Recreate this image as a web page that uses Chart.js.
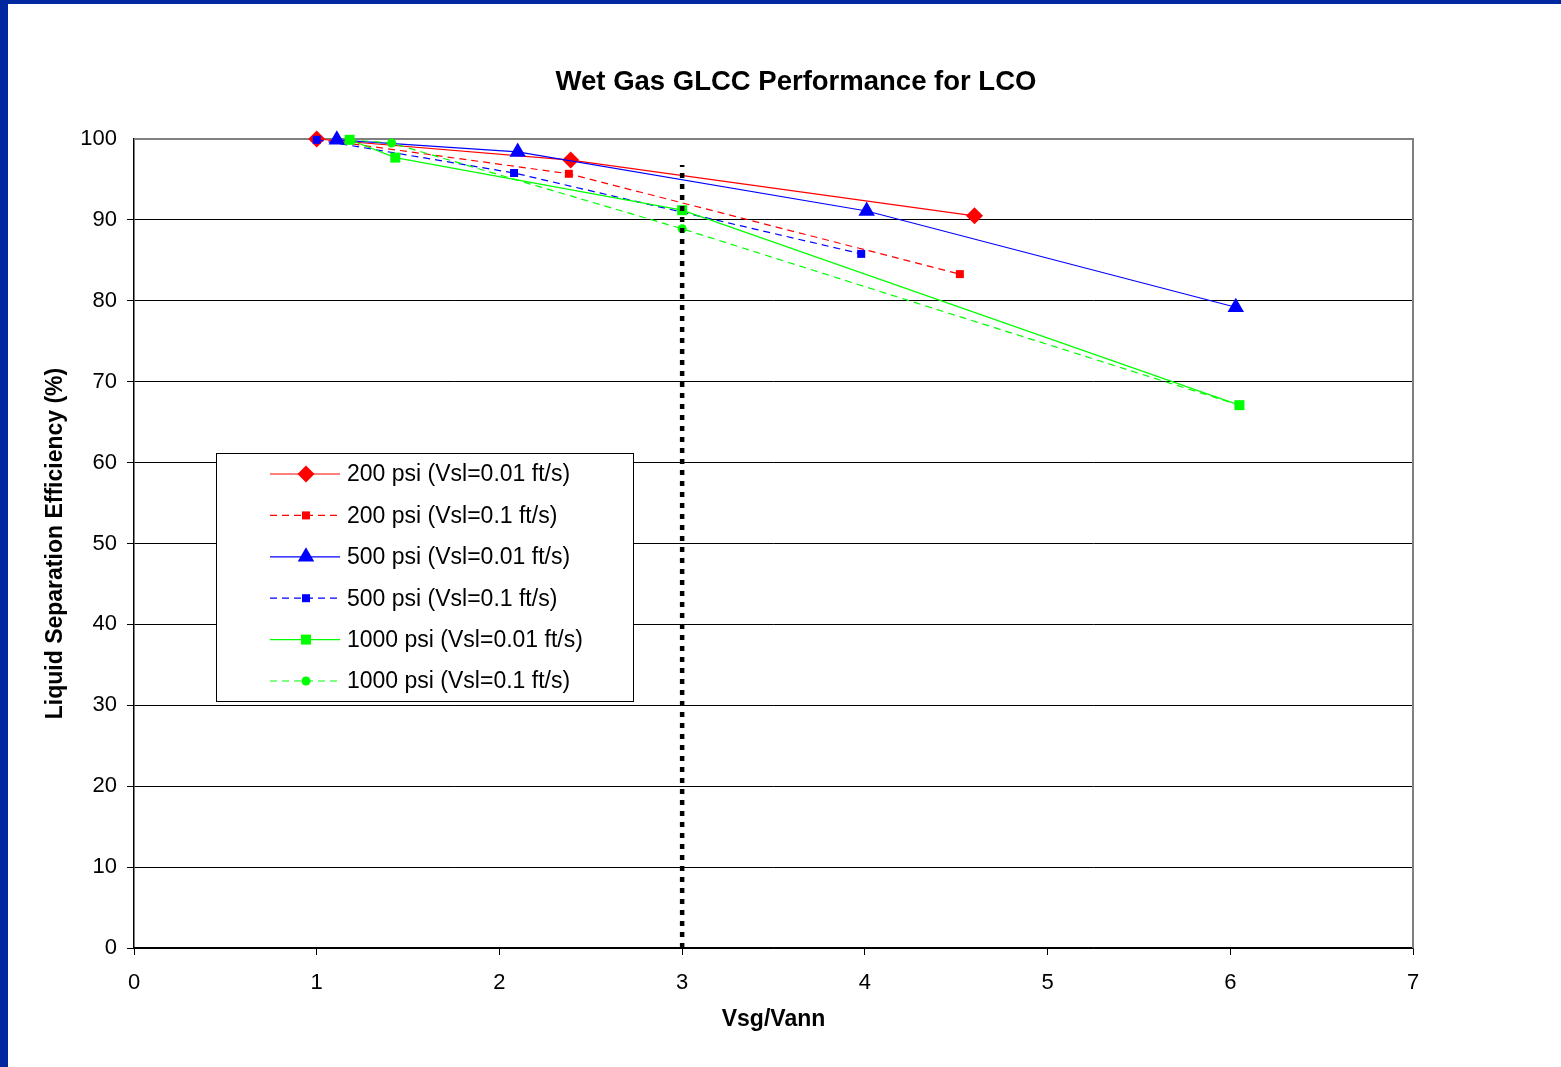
<!DOCTYPE html>
<html>
<head>
<meta charset="utf-8">
<script src="https://cdn.jsdelivr.net/npm/chart.js@4.4.1/dist/chart.umd.min.js"></script>
<style>
  html, body { margin: 0; padding: 0; background: #fff; }
  canvas { display: block; }
</style>
</head>
<body>
<canvas id="chart" width="1561" height="1067"></canvas>
<script>
const seriesNames = [
  '200 psi (Vsl=0.01 ft/s)',
  '200 psi (Vsl=0.1 ft/s)',
  '500 psi (Vsl=0.01 ft/s)',
  '500 psi (Vsl=0.1 ft/s)',
  '1000 psi (Vsl=0.01 ft/s)',
  '1000 psi (Vsl=0.1 ft/s)',
];

const x200a = [1.0, 2.39, 4.60];
const y200a = [100, 97.4, 90.5];
const x200b = [1.0, 2.38, 4.52];
const y200b = [100, 95.7, 83.3];
const x500a = [1.11, 2.10, 4.01, 6.03];
const y500a = [99.9, 98.4, 91.1, 79.2];
const x500b = [1.0, 2.08, 3.98];
const y500b = [99.9, 95.8, 85.8];
const x1000a = [1.18, 1.43, 3.0, 6.05];
const y1000a = [99.9, 97.7, 91.2, 67.1];
const x1000b = [1.18, 1.41, 3.0, 6.05];
const y1000b = [99.9, 99.5, 88.9, 67.1];

// vertical limit line at Vsg/Vann = 3
const limitX = [3, 3];
const limitY = [0, 96.8];

const xTicks = [0, 1, 2, 3, 4, 5, 6, 7];
const yTicks = [0, 10, 20, 30, 40, 50, 60, 70, 80, 90, 100];

const FONT = '"Liberation Sans", Arial, sans-serif';

const toPoints = (xs, ys) => xs.map((x, i) => ({ x: x, y: ys[i] }));

const styles = [
  { color: '#ff0000', dash: [], marker: 'diamond', size: 8.5 },
  { color: '#ff0000', dash: [7, 5], marker: 'square', size: 4 },
  { color: '#0000ff', dash: [], marker: 'triangle', size: 9.5 },
  { color: '#0000ff', dash: [7, 5], marker: 'square', size: 4 },
  { color: '#00ff00', dash: [], marker: 'square', size: 5 },
  { color: '#00ff00', dash: [7, 5], marker: 'circle', size: 4.5 },
];

const chartStyle = { diamond: 'rectRot', square: 'rect', triangle: 'triangle', circle: 'circle' };
// Chart.js radius for each marker so the shapes come out at the sizes above
const radiusFor = (s) => s.marker === 'square' ? s.size * Math.SQRT2 : s.size;

const allSeries = [
  toPoints(x200a, y200a),
  toPoints(x200b, y200b),
  toPoints(x500a, y500a),
  toPoints(x500b, y500b),
  toPoints(x1000a, y1000a),
  toPoints(x1000b, y1000b),
];

const datasets = allSeries.map((pts, i) => ({
  label: seriesNames[i],
  data: pts,
  borderColor: styles[i].color,
  backgroundColor: styles[i].color,
  borderWidth: 1.2,
  borderDash: styles[i].dash,
  pointStyle: chartStyle[styles[i].marker],
  pointRadius: radiusFor(styles[i]),
  pointBorderWidth: 0,
  showLine: true,
  clip: false,
  order: 10 - i,
}));

datasets.push({
  label: 'limit',
  data: toPoints(limitX, limitY),
  borderColor: '#000',
  borderWidth: 4.5,
  borderDash: [5, 6],
  pointRadius: 0,
  showLine: true,
  order: 0,
});

function drawMarker(ctx, s, x, y) {
  const r = s.size;
  ctx.fillStyle = s.color;
  ctx.beginPath();
  if (s.marker === 'diamond') {
    ctx.moveTo(x, y - r); ctx.lineTo(x + r, y); ctx.lineTo(x, y + r); ctx.lineTo(x - r, y);
  } else if (s.marker === 'square') {
    ctx.rect(x - r, y - r, 2 * r, 2 * r);
  } else if (s.marker === 'triangle') {
    ctx.moveTo(x, y - r); ctx.lineTo(x + r * 0.87, y + r * 0.5); ctx.lineTo(x - r * 0.87, y + r * 0.5);
  } else {
    ctx.arc(x, y, r, 0, Math.PI * 2);
  }
  ctx.closePath();
  ctx.fill();
}

const decor = {
  id: 'decor',
  beforeDraw(chart) {
    const ctx = chart.ctx;
    ctx.save();
    ctx.fillStyle = '#fff';
    ctx.fillRect(0, 0, chart.width, chart.height);
    ctx.fillStyle = '#0026a0';
    ctx.fillRect(0, 0, chart.width, 4);
    ctx.fillRect(0, 0, 8, chart.height);
    ctx.fillStyle = '#000';
    ctx.font = 'bold 27.5px ' + FONT;
    ctx.textAlign = 'center';
    ctx.textBaseline = 'middle';
    ctx.fillText('Wet Gas GLCC Performance for LCO', 796, 82);
    ctx.restore();
  },
  beforeDatasetsDraw(chart) {
    const { ctx, chartArea: a } = chart;
    ctx.save();
    ctx.strokeStyle = '#808080';
    ctx.lineWidth = 2;
    ctx.beginPath();
    ctx.moveTo(a.left, a.top);
    ctx.lineTo(a.right, a.top);
    ctx.lineTo(a.right, a.bottom);
    ctx.stroke();
    ctx.restore();
  },
  afterDraw(chart) {
    const ctx = chart.ctx;
    ctx.save();
    ctx.fillStyle = '#fff';
    ctx.strokeStyle = '#000';
    ctx.lineWidth = 1;
    ctx.fillRect(216, 453, 417, 248);
    ctx.strokeRect(216.5, 453.5, 417, 248);
    ctx.font = '23px ' + FONT;
    ctx.textBaseline = 'middle';
    ctx.textAlign = 'left';
    seriesNames.forEach((name, i) => {
      const y = 474 + i * 41.4;
      const s = styles[i];
      ctx.strokeStyle = s.color;
      ctx.lineWidth = 1.2;
      ctx.setLineDash(s.dash);
      ctx.beginPath();
      ctx.moveTo(270, y);
      ctx.lineTo(340, y);
      ctx.stroke();
      ctx.setLineDash([]);
      drawMarker(ctx, s, 306, y);
      ctx.fillStyle = '#000';
      ctx.fillText(name, 347, y + 1);
    });
    ctx.restore();
  },
};

new Chart(document.getElementById('chart'), {
  type: 'scatter',
  data: { datasets: datasets },
  plugins: [decor],
  options: {
    responsive: false,
    animation: false,
    layout: { padding: { left: 0, top: 139, right: 148, bottom: 0 } },
    plugins: {
      legend: { display: false },
      tooltip: { enabled: false },
      title: { display: false },
    },
    scales: {
      x: {
        type: 'linear',
        min: 0,
        max: 7,
        afterBuildTicks: (s) => { s.ticks = xTicks.map(v => ({ value: v })); },
        afterFit: (s) => { s.height = 119; },
        ticks: { color: '#000', font: { family: FONT, size: 22 }, padding: 15 },
        grid: { drawOnChartArea: false, tickLength: 7, color: '#000', lineWidth: 1 },
        border: { color: '#000', width: 1.5 },
        title: {
          display: true,
          text: 'Vsg/Vann',
          color: '#000',
          font: { family: FONT, size: 23, weight: 'bold' },
          padding: { top: 0, bottom: 34 },
        },
      },
      y: {
        min: 0,
        max: 100,
        afterBuildTicks: (s) => { s.ticks = yTicks.map(v => ({ value: v })); },
        afterFit: (s) => { s.width = 134; },
        ticks: { color: '#000', font: { family: FONT, size: 22 }, padding: 10 },
        grid: {
          tickLength: 7,
          lineWidth: 1,
          color: (c) => (c.tick && c.tick.value === 100 ? 'rgba(0,0,0,0)' : '#000'),
        },
        border: { color: '#000', width: 1.5 },
        title: {
          display: true,
          text: 'Liquid Separation Efficiency (%)',
          color: '#000',
          font: { family: FONT, size: 23, weight: 'bold' },
          padding: { top: 42, bottom: 0 },
        },
      },
    },
  },
});
</script>
</body>
</html>
